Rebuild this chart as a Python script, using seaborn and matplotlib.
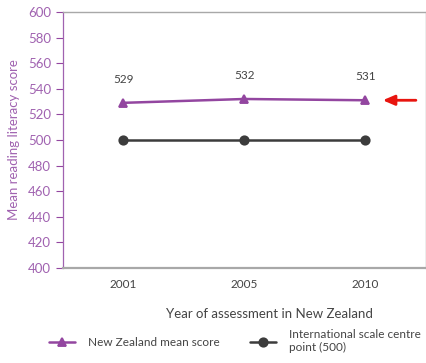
import matplotlib
matplotlib.use("Agg")
import matplotlib.pyplot as plt
import seaborn as sns
import pandas as pd

years = ["2001", "2005", "2010"]
nz_scores = [529, 532, 531]
centre_scores = [500, 500, 500]
series_names = ["New Zealand mean score", "International scale centre\npoint (500)"]

purple = "#9346a0"
purple_text = "#a062b0"
dark = "#3c3c3c"
grey_text = "#444444"

df = pd.DataFrame({
    "year": years * 2,
    "score": nz_scores + centre_scores,
    "series": [series_names[0]] * 3 + [series_names[1]] * 3,
})

sns.set_style("white")
plt.rcParams["font.family"] = ["Lato", "DejaVu Sans"]

fig = plt.figure(figsize=(4.27, 3.63), dpi=100)
ax = fig.add_axes([0.1475, 0.262, 0.85, 0.705])

sns.pointplot(data=df, x="year", y="score", hue="series",
              palette=[purple, dark], markers=["^", "o"], linestyles=["-", "-"],
              markersize=6, linewidth=1.8, ax=ax)

for i, v in enumerate(nz_scores):
    ax.annotate(str(v), (i, v), xytext=(0, 17), textcoords="offset points",
                ha="center", va="center", fontsize=8.5, color=grey_text)

ax.annotate("", xy=(2.12, 531), xytext=(2.44, 531),
            arrowprops=dict(arrowstyle="-|>,head_length=0.7,head_width=0.3",
                            color="#e8150f", lw=2))

ax.set_ylim(400, 600)
ax.set_xlim(-0.5, 2.5)
ax.set_yticks(range(400, 601, 20))
ax.tick_params(axis="y", colors=purple, labelcolor=purple_text, length=5, width=0.8,
               labelsize=9.5, direction="out", left=True)
ax.tick_params(axis="x", length=0, labelsize=8.5, labelcolor=grey_text, pad=8)

for side in ["top", "right", "bottom"]:
    ax.spines[side].set_color("#a8a8a8")
    ax.spines[side].set_linewidth(1.0)
ax.spines["bottom"].set_linewidth(1.6)
ax.spines["left"].set_color(purple_text)
ax.spines["left"].set_linewidth(0.9)

ax.set_ylabel("Mean reading literacy score", color=purple_text, fontsize=9.5, labelpad=6)
ax.set_xlabel("Year of assessment in New Zealand", color=grey_text, fontsize=9.5)
ax.xaxis.set_label_coords(0.57, -0.155)

handles, labels = ax.get_legend_handles_labels()
ax.get_legend().remove()
fig.legend(handles, labels, ncol=2, loc="upper left", bbox_to_anchor=(0.09, 0.122),
           frameon=False, fontsize=8.5, handlelength=2.2, columnspacing=2.6,
           handletextpad=1.1, labelcolor=grey_text)

fig.savefig("out.png", dpi=100)
